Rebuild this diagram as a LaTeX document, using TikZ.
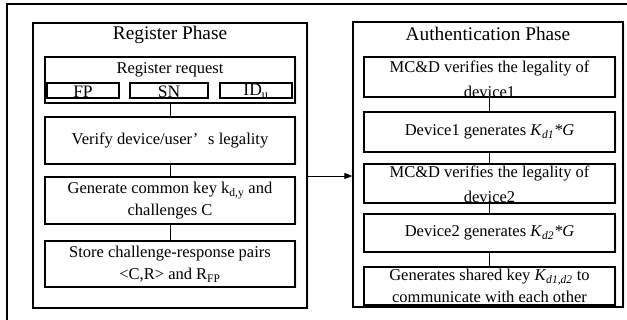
\documentclass[tikz,border=0pt]{standalone}
\usepackage{fontspec}
\setmainfont{Liberation Serif}
\usetikzlibrary{arrows.meta,fit,shadows}
\tikzset{
  panel/.style={draw, line width=1.2pt, inner sep=0pt, fill=white,
    drop shadow={opacity=0.12, shadow xshift=1.5pt, shadow yshift=-1.5pt}},
  stepbox/.style={draw, line width=1.1pt, inner sep=0pt, fill=white, align=center,
    drop shadow={opacity=0.12, shadow xshift=1.5pt, shadow yshift=-1.5pt}},
  fieldbox/.style={draw, line width=1.1pt, inner sep=0pt},
  txt/.style={inner sep=0pt, align=center},
  conn/.style={line width=0.9pt},
}
\begin{document}
\begin{tikzpicture}[x=1pt,y=-1pt]
\useasboundingbox (0,0) rectangle (627,320);
% outer frame (cropped)
\draw[line width=2pt] (7,330) -- (7,4) -- (640,4);

% left panel
\node[panel, fit={(33,23)(307,308)}] (lp) {};
\node[txt, font=\fontsize{19.3}{22}\selectfont] (lt) at (170,35) {Register Phase};
\node[stepbox, fit={(45,57)(295,103)}] (rr) {};
\node[txt, font=\fontsize{16.5}{20}\selectfont] (rrt) at (170,70) {Register request};
\node[fieldbox, fit={(47,83)(119,98)}] (fp) {};
\node[fieldbox, fit={(130,83)(208,98)}] (sn) {};
\node[fieldbox, fit={(220,83)(292,98)}] (id) {};
\node[txt, font=\fontsize{17.5}{20}\selectfont] (fpt) at (83,91.5) {FP};
\node[txt, font=\fontsize{17.5}{20}\selectfont] (snt) at (169,91.5) {SN};
\node[txt, font=\fontsize{17.5}{20}\selectfont] (idt) at (256,91.5) {ID\textsubscript{u}};
\node[stepbox, fit={(45,117)(295,164)}] (vb) {};
\node[txt, font=\fontsize{16.5}{24}\selectfont] at (vb.center) {Verify device/user’\hspace{0.6em}s legality};
\node[stepbox, fit={(45,177)(295,224)}] (gb) {};
\node[txt, font=\fontsize{16.5}{22}\selectfont] at (gb.center) {Generate common key k\textsubscript{d,y} and\\challenges C};
\node[stepbox, fit={(45,241)(295,287)}] (sb) {};
\node[txt, font=\fontsize{16.5}{22}\selectfont] at (sb.center) {Store challenge-response pairs\\<C,R> and R\textsubscript{FP}};
\draw[conn] (rr.south) -- (vb.north);
\draw[conn] (vb.south) -- (gb.north);
\draw[conn] (gb.south) -- (sb.north);

% right panel
\node[panel, fit={(353,22)(623,307)}] (rp) {};
\node[txt, font=\fontsize{19.3}{22}\selectfont] (rt) at (488,34) {Authentication Phase};
\node[stepbox, fit={(364,57)(615,97)}] (a1) {};
\node[txt, font=\fontsize{16.5}{25}\selectfont] at ([yshift=-2]a1.center) {MC\&D verifies the legality of\\device1};
\node[stepbox, fit={(364,112)(615,152)}] (a2) {};
\node[txt, font=\fontsize{16.5}{24}\selectfont] at (a2.center) {Device1 generates \textit{K}\textsubscript{\textit{d1}}\textit{*G}};
\node[stepbox, fit={(364,164)(615,203)}] (a3) {};
\node[txt, font=\fontsize{16.5}{25}\selectfont] at ([yshift=-1]a3.center) {MC\&D verifies the legality of\\device2};
\node[stepbox, fit={(364,214)(615,252)}] (a4) {};
\node[txt, font=\fontsize{16.5}{24}\selectfont] at (a4.center) {Device2 generates \textit{K}\textsubscript{\textit{d2}}\textit{*G}};
\node[stepbox, fit={(364,267)(615,305)}] (a5) {};
\node[txt, font=\fontsize{16.5}{22}\selectfont] at (a5.center) {Generates shared key \textit{K}\textsubscript{\textit{d1,d2}} to\\communicate with each other};
\draw[conn] (a1.south) -- (a2.north);
\draw[conn] (a2.south) -- (a3.north);
\draw[conn] (a3.south) -- (a4.north);
\draw[conn] (a4.south) -- (a5.north);

% arrow between phases
\coordinate (as) at (307,176);
\draw[conn, -{Triangle[length=8pt,width=6pt]}] (as) -- (as -| rp.west);
\end{tikzpicture}
\end{document}
